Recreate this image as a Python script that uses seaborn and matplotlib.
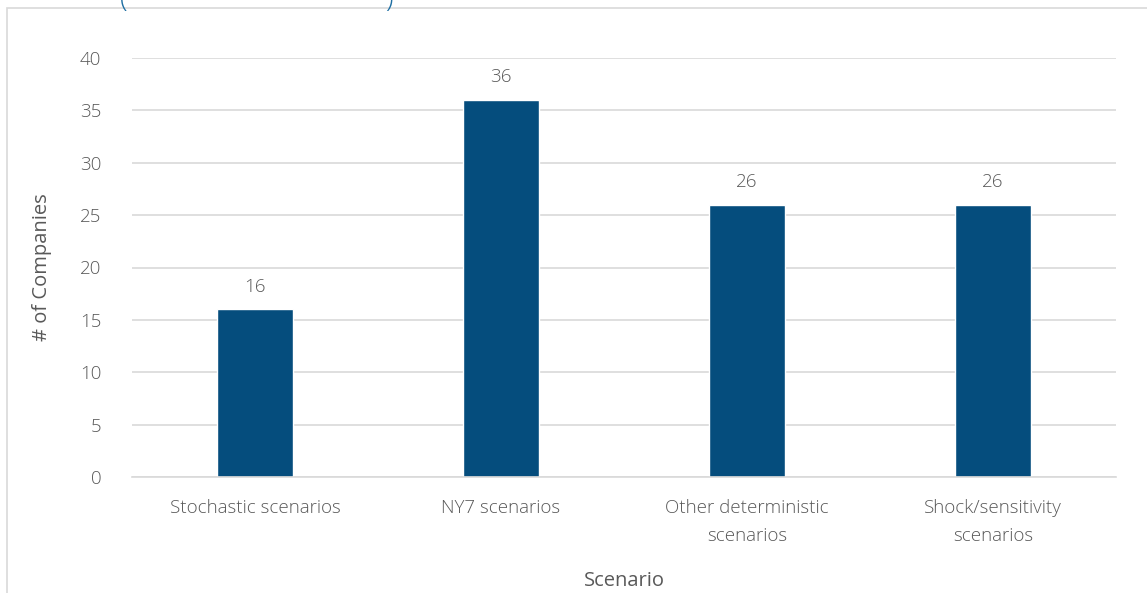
import numpy as np
import pandas as pd
import seaborn as sns
import matplotlib.pyplot as plt
from matplotlib.patches import Rectangle

scenarios = ['Stochastic scenarios', 'NY7 scenarios',
             'Other deterministic\nscenarios', 'Shock/sensitivity\nscenarios']
companies = [16, 36, 26, 26]
y_ticks = [0, 5, 10, 15, 20, 25, 30, 35, 40]

df = pd.DataFrame({'Scenario': scenarios, 'Companies': companies})

sns.set_theme(style='white')
plt.rcParams['font.family'] = ['Open Sans', 'DejaVu Sans']
plt.rcParams['font.weight'] = 'light'

txt = '#595959'
fs = 13.5
fig = plt.figure(figsize=(11.47, 5.93), dpi=100)
ax = fig.add_axes([132/1147, 1 - 477/593, (1116 - 132)/1147, (477 - 58)/593])

sns.barplot(data=df, x='Scenario', y='Companies', color='#054D7D',
            width=0.31, saturation=1, ax=ax)

for i, v in enumerate(companies):
    ax.text(i, v + 1.3, str(v), ha='center', va='bottom', fontsize=fs, color=txt)

ax.set_ylim(0, 40)
ax.set_xlim(-0.5, 3.5)
ax.set_yticks(y_ticks)
ax.yaxis.grid(True, color='#d9d9d9', linewidth=1.2)
ax.set_axisbelow(True)
for s in ['top', 'right', 'left']:
    ax.spines[s].set_visible(False)
ax.spines['bottom'].set_color('#d9d9d9')
ax.spines['bottom'].set_linewidth(1.2)
ax.tick_params(axis='y', length=0, pad=22, labelsize=fs, labelcolor=txt)
ax.tick_params(axis='x', length=0, pad=16, labelsize=fs, labelcolor=txt)
for lab in ax.get_xticklabels():
    lab.set_linespacing(1.7)

ax.set_ylabel('# of Companies', fontsize=14.5, color=txt, labelpad=20)
ax.set_xlabel('Scenario', fontsize=14.5, color=txt, labelpad=19)

# chart area border
fig.patches.append(Rectangle((7/1147, -0.1), 1.2, 1 - 8/593 + 0.1,
                             transform=fig.transFigure, fill=False,
                             edgecolor='#d9d9d9', linewidth=1.2))

# title is clipped by the top edge; only the bottom of the brackets shows
fig.text(120/1147, 1.0, '(', fontsize=20, color='#1F6FA3', va='center', ha='left')
fig.text(385/1147, 1.0, ')', fontsize=20, color='#1F6FA3', va='center', ha='left')

fig.savefig('out.png', dpi=100)
